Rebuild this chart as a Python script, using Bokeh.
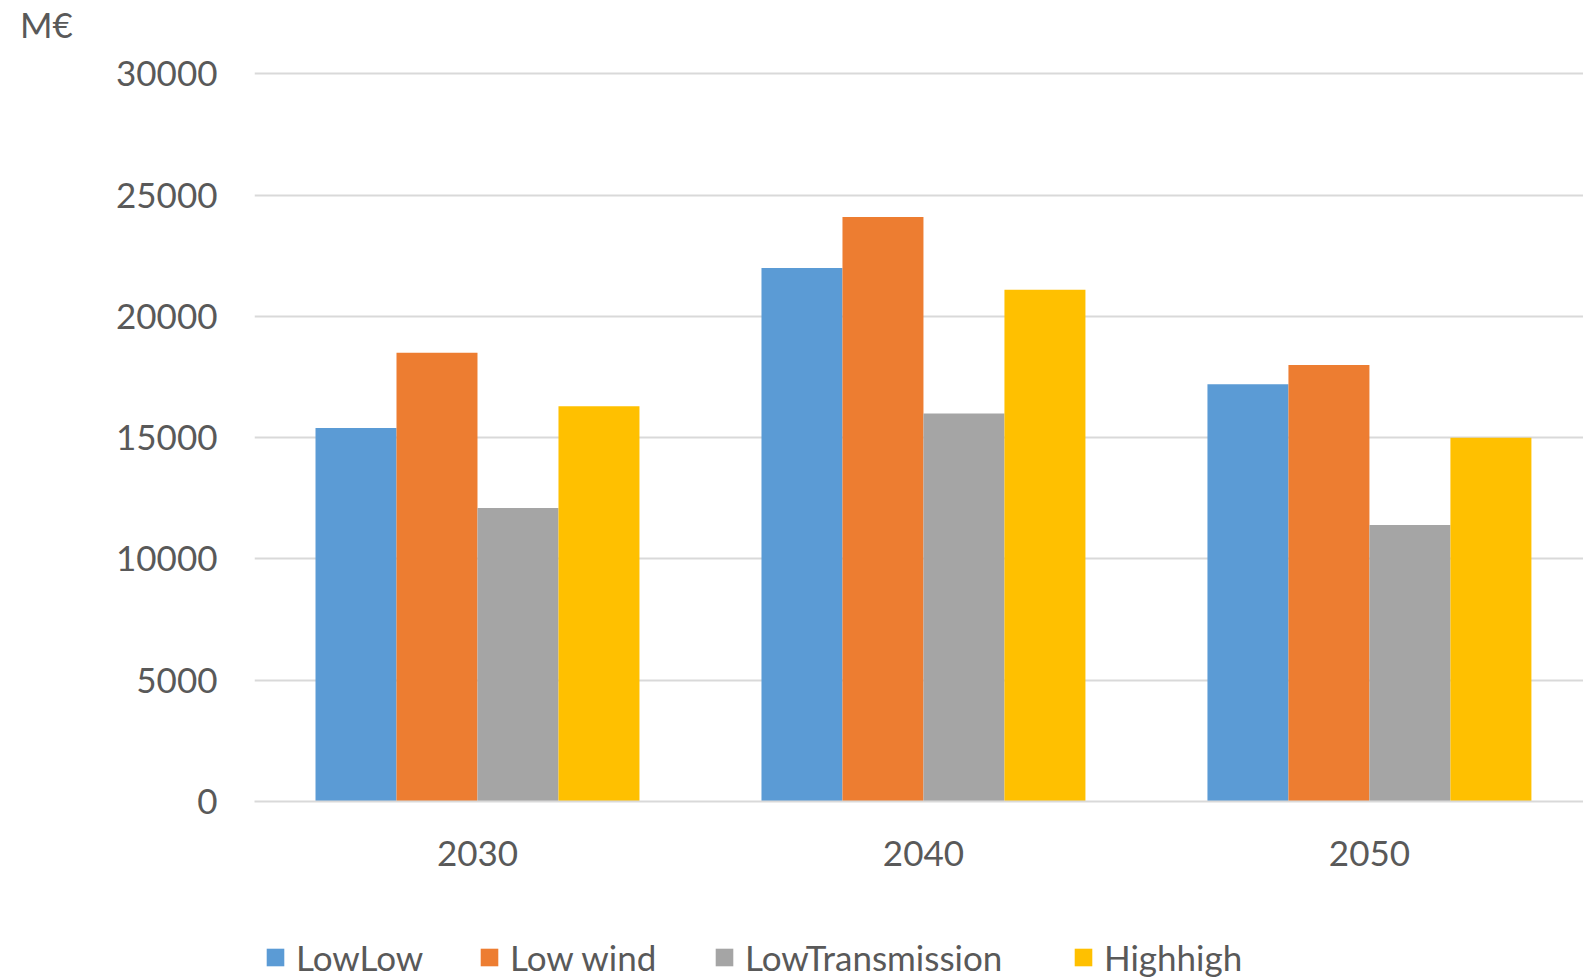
import numpy as np
from bokeh.plotting import figure
from bokeh.layouts import column
from bokeh.models import Range1d, FixedTicker, Legend, LegendItem, ColumnDataSource, Div
from bokeh.embed import file_html
from bokeh.resources import INLINE

years = ["2030", "2040", "2050"]
series = ["LowLow", "Low wind", "LowTransmission", "Highhigh"]
lowlow = [15400, 22000, 17200]
low_wind = [18500, 24100, 18000]
low_transmission = [12100, 16000, 11400]
highhigh = [16300, 21100, 15000]
colors = ["#5b9bd5", "#ed7d31", "#a5a5a5", "#ffc000"]
y_ticks = [0, 5000, 10000, 15000, 20000, 25000, 30000]
unit_label = "M€"

FONT = "Lato"
TXT = "#595959"
FS = "35px"
W = 1583
LEFT = 254

# --- top strip with the unit label ---
top = Div(text=unit_label, width=W, height=48, margin=0,
          styles={"font-family": FONT, "font-size": FS, "color": TXT,
                  "line-height": "48px", "padding-left": "20px"})

# --- main chart ---
p = figure(width=W, height=867, output_backend="svg", toolbar_location=None,
           x_range=Range1d(0, 2.98), y_range=Range1d(0, 30100),
           min_border_left=LEFT, min_border_right=0, min_border_top=23, min_border_bottom=114)
p.outline_line_color = None

bw = 0.1816
centers = np.arange(len(years)) + 0.5
for i, vals in enumerate([lowlow, low_wind, low_transmission, highhigh]):
    src = ColumnDataSource(dict(x=centers + (i - 1.5) * bw, top=vals))
    p.vbar(x="x", top="top", bottom=0, width=bw, source=src,
           fill_color=colors[i], line_color=None)

p.xaxis.ticker = FixedTicker(ticks=list(centers))
p.xaxis.major_label_overrides = {float(c): y for c, y in zip(centers, years)}
p.xaxis.major_tick_line_color = None
p.xaxis.minor_tick_line_color = None
p.xaxis.axis_line_color = "#d9d9d9"
p.xaxis.axis_line_width = 2
p.xaxis.major_label_text_font = FONT
p.xaxis.major_label_text_font_size = FS
p.xaxis.major_label_text_color = TXT
p.xaxis.major_label_standoff = 33

p.yaxis.ticker = FixedTicker(ticks=y_ticks)
p.yaxis.axis_line_color = None
p.yaxis.major_tick_line_color = None
p.yaxis.minor_tick_line_color = None
p.yaxis.major_label_text_font = FONT
p.yaxis.major_label_text_font_size = FS
p.yaxis.major_label_text_color = TXT
p.yaxis.major_label_standoff = 31

p.xgrid.grid_line_color = None
p.ygrid.grid_line_color = "#d9d9d9"
p.ygrid.grid_line_width = 2

# --- legend strip (frame starts at the same left edge as the chart) ---
leg = figure(width=W, height=65, output_backend="svg", toolbar_location=None,
             x_range=Range1d(0, 1), y_range=Range1d(0, 1),
             min_border_left=LEFT, min_border_right=0, min_border_top=0, min_border_bottom=0,
             x_axis_type=None, y_axis_type=None)
leg.outline_line_color = None
leg.grid.visible = False
legend_x = [264, 478, 713, 1072]
for i, name in enumerate(series):
    r = leg.vbar(x=[5], top=[0.5], width=0.1, fill_color=colors[i], line_color=None)
    lg = Legend(items=[LegendItem(label=name, renderers=[r])], location=(legend_x[i] - LEFT, 2),
                orientation="horizontal",
                label_text_font=FONT, label_text_font_size=FS, label_text_color=TXT,
                glyph_width=22, glyph_height=22, label_standoff=10,
                margin=0, padding=0, border_line_color=None, background_fill_alpha=0)
    leg.add_layout(lg, "center")

layout = column(top, p, leg, spacing=0)
open("out.html", "w").write(file_html(layout, INLINE))
